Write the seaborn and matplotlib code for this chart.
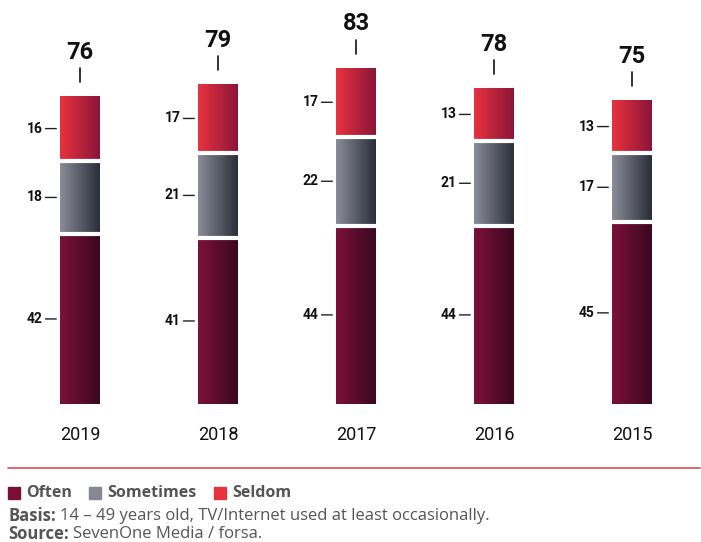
import numpy as np
import pandas as pd
import matplotlib
matplotlib.use("Agg")
import matplotlib.pyplot as plt
from matplotlib.colors import LinearSegmentedColormap
import seaborn as sns

years = ["2019", "2018", "2017", "2016", "2015"]
often = [42, 41, 44, 44, 45]
sometimes = [18, 21, 22, 21, 17]
seldom = [16, 17, 17, 13, 13]
totals = [76, 79, 83, 78, 75]

grad_left = {"Often": "#7c1139", "Sometimes": "#8a8d98", "Seldom": "#e8333f"}
grad_right = {"Often": "#3a0820", "Sometimes": "#2a2e39", "Seldom": "#8a1538"}
legend_colors = {"Often": "#7a1038", "Sometimes": "#858893", "Seldom": "#e8333f"}

sns.set_theme(style="white")
plt.rcParams["font.family"] = ["Roboto", "DejaVu Sans"]

df = pd.DataFrame({"year": years, "Often": often, "Sometimes": sometimes, "Seldom": seldom})
df["cum_often"] = df["Often"]
df["cum_sometimes"] = df["Often"] + df["Sometimes"]
df["cum_seldom"] = df["cum_sometimes"] + df["Seldom"]

W, H = 701, 542
PX_PER_UNIT = 4.05
fig = plt.figure(figsize=(W / 100, H / 100), dpi=100)
ax = fig.add_axes([11 / W, 138 / H, 690 / W, 400 / H])

bar_w = 0.283
# stacked bars: draw cumulative heights from the tallest down
layers = [("Seldom", "cum_seldom", 1), ("Sometimes", "cum_sometimes", 2), ("Often", "cum_often", 3)]
layer_patches = {}
for name, col, z in layers:
    n0 = len(ax.patches)
    sns.barplot(data=df, x="year", y=col, order=years, color=legend_colors[name],
                width=bar_w, ax=ax, zorder=z, errorbar=None, saturation=1)
    layer_patches[name] = ax.patches[n0:]

# horizontal gradient clipped to each bar segment
grad = np.linspace(0, 1, 256).reshape(1, -1)
for name, col, z in layers:
    cmap = LinearSegmentedColormap.from_list(name, [grad_left[name], grad_right[name]])
    for p in layer_patches[name]:
        x0, y0 = p.get_x(), p.get_y()
        w, h = p.get_width(), p.get_height()
        im = ax.imshow(grad, cmap=cmap, extent=[x0, x0 + w, y0, y0 + h],
                       aspect="auto", zorder=z + 0.5, interpolation="bicubic")
        im.set_clip_path(p)

# white gaps between segments
for name in ["Sometimes", "Often"]:
    for p in layer_patches[name]:
        x0, w, top = p.get_x(), p.get_width(), p.get_height()
        ax.plot([x0 - 0.01, x0 + w + 0.01], [top, top], color="white", lw=3.0,
                zorder=10, solid_capstyle="butt")

ax.set_xlim(-0.5, len(years) - 0.5)
ax.set_ylim(0, 400 / PX_PER_UNIT)

# segment value labels with a short dash to the left of the bar
for i in range(len(years)):
    x_left = i - bar_w / 2
    bottoms = [0, often[i], often[i] + sometimes[i]]
    vals = [often[i], sometimes[i], seldom[i]]
    for b, v in zip(bottoms, vals):
        yc = b + v / 2
        ax.annotate("", xy=(x_left, yc), xytext=(-15, 0), textcoords="offset pixels",
                    arrowprops=dict(arrowstyle="-", color="#222222", lw=1.0,
                                    shrinkA=0, shrinkB=3))
        ax.annotate(str(v), xy=(x_left, yc), xytext=(-18, 0), textcoords="offset pixels",
                    ha="right", va="center", fontsize=10, fontweight="bold",
                    color="#111111")
    # total above the bar with a vertical tick
    ax.plot([i, i], [totals[i] + 14 / PX_PER_UNIT, totals[i] + 28 / PX_PER_UNIT],
            color="#111111", lw=1.2, zorder=5)
    ax.annotate(str(totals[i]), xy=(i, totals[i]), xytext=(0, 44),
                textcoords="offset pixels", ha="center", va="center",
                fontsize=17, fontweight="bold", color="#111111")

ax.set_xlabel("")
ax.set_ylabel("")
ax.set_yticks([])
ax.set_xticks(range(len(years)))
ax.set_xticklabels(years, fontsize=13, color="#111111")
ax.tick_params(axis="x", length=0, pad=16)
for s in ax.spines.values():
    s.set_visible(False)
ax.patch.set_alpha(0)

# red rule under the chart
fig.add_artist(plt.Line2D([8 / W, 700 / W], [1 - 468 / H, 1 - 468 / H],
                          color="#e45a66", lw=1.3, transform=fig.transFigure))

# legend row and footnotes
text_gray = "#555555"
foot_font = ["Open Sans", "DejaVu Sans"]
leg_items = [("Often", 8), ("Sometimes", 89), ("Seldom", 214)]
for name, px in leg_items:
    fig.add_artist(plt.Rectangle((px / W, 1 - 499 / H), 12 / W, 12 / H,
                                 color=legend_colors[name], transform=fig.transFigure))
    fig.text((px + 18) / W, 1 - 493 / H, name, fontsize=11.5, fontweight="bold",
             family=foot_font, color=text_gray, va="center", ha="left")

renderer = fig.canvas.get_renderer()


def two_part_line(y_px, bold_part, rest):
    t = fig.text(8 / W, 1 - y_px / H, bold_part, fontsize=12, fontweight="bold",
                 family=foot_font, color=text_gray, va="center", ha="left")
    x_end = t.get_window_extent(renderer).x1
    fig.text((x_end + 4) / W, 1 - y_px / H, rest, fontsize=12,
             family=foot_font, color=text_gray, va="center", ha="left")


two_part_line(516, "Basis:", "14 – 49 years old, TV/Internet used at least occasionally.")
two_part_line(534, "Source:", "SevenOne Media / forsa.")

fig.savefig("out.png", dpi=100)
